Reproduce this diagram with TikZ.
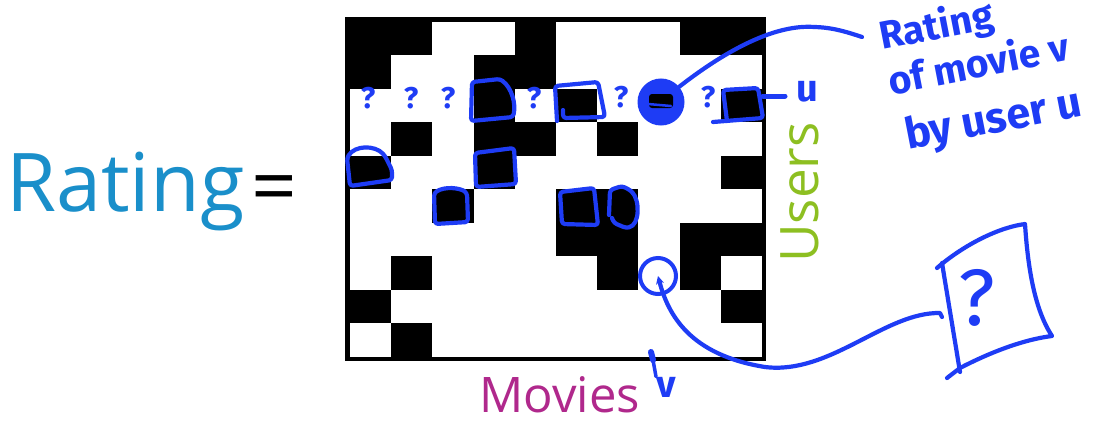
\documentclass[tikz,border=0pt]{standalone}
\usepackage{fontspec}
\setmainfont{Open Sans}
\newfontfamily\handfont{Fira Sans}
\usetikzlibrary{arrows.meta}
\definecolor{ratingblue}{HTML}{1A8FCA}
\definecolor{usersgreen}{HTML}{8DBF21}
\definecolor{moviesmag}{HTML}{B0288C}
\definecolor{pen}{HTML}{1E3CF5}
\tikzset{
  hand/.style={draw=pen, line width=4.2pt, line cap=round, line join=round, rounded corners=3pt},
  pentext/.style={text=pen, inner sep=0pt, font=\handfont\bfseries\fontsize{38}{38}\selectfont},
  qmark/.style={text=pen, inner sep=0pt, font=\handfont\bfseries\fontsize{30}{30}\selectfont},
}
\begin{document}
\begin{tikzpicture}[x=1pt,y=-1pt]
\useasboundingbox (0,0) rectangle (1099,421);
\fill[white] (0,0) rectangle (1099,421);
% grid cells
\foreach \r/\c in {0/0,0/1,0/4,0/8,0/9,
                   1/0,1/3,1/4,
                   2/3,2/5,2/9,
                   3/1,3/3,3/4,3/6,
                   4/0,4/3,4/9,
                   5/2,5/5,5/6,
                   6/5,6/6,6/8,6/9,
                   7/1,7/6,7/8,
                   8/0,8/9,
                   9/1}{
  \fill[black] (350+\c*41.2, 21.7+\r*33.53) rectangle ++(41.2,33.53);
}
\draw[black, line width=4.6pt] (347.5,19.4) rectangle (764,359);
% labels
\node[anchor=base west, inner sep=0pt, text=ratingblue, font=\fontsize{81}{81}\selectfont] (rating) at (6,211) {Rating};
\node[inner sep=0pt, font=\fontsize{80}{80}\selectfont] (eq) at (274.5,195.5) {=};
\node[rotate=90, anchor=base west, inner sep=0pt, text=usersgreen, font=\fontsize{53}{53}\selectfont] (users) at (818,263) {Users};
\node[anchor=base west, inner sep=0pt, text=moviesmag, font=\fontsize{49}{49}\selectfont] (movies) at (479,412) {Movies};
% question marks in row u
\node[qmark] (q0) at (368,98) {?};
\node[qmark] (q1) at (411,98) {?};
\node[qmark] (q2) at (448,98) {?};
\node[qmark] (q4) at (534,98) {?};
\node[qmark] (q6) at (621,97) {?};
\node[qmark] (q8) at (708,97) {?};
% hand-drawn squares around known ratings
\draw[hand] (471,121) -- (472,82) -- (500,79) .. controls (512,88) and (516,104) .. (513,117) -- cycle;
\draw[hand] (563,110) -- (563,118) -- (605,117) -- (598,82) -- (555,86) -- (557,121);
\draw[hand] (713,122) -- (763,118) -- (758,88) -- (723,90) -- (727,121);
\draw[hand] (350,186) -- (347,158) .. controls (355,145) and (375,145) .. (385,156) -- (392,170) -- (392,180) -- cycle;
\draw[hand] (476,187) -- (475,153) -- (514,148) -- (516,184) -- cycle;
\draw[hand] (435,224) -- (434,193) .. controls (445,186) and (460,188) .. (467,193) -- (468,222) -- cycle;
\draw[hand] (562,224) -- (560,192) -- (594,188) -- (598,225) -- cycle;
\draw[hand] (612,218) -- (614,223) -- (626,228) .. controls (640,225) and (640,200) .. (630,190) -- (622,186) -- (610,190) -- (609,215);
% circled entry (u,v) in row u
\node[circle, fill=pen, draw=pen, line width=3pt, minimum size=44pt, inner sep=0pt] (c1) at (661,102) {};
\fill[black, rounded corners=3pt] (649,94) rectangle (673,108);
\draw[pen, line width=2.5pt, line cap=round] (648,104) -- (671,106);
% u label
\coordinate (sqCe) at (763,96);
\coordinate (ue) at (785,96);
\draw[hand, line width=5pt] (sqCe) -- (ue);
\node[pentext, anchor=base west] (ulab) at (796,101) {u};
% annotation
\node[pentext, anchor=base west, rotate=11, align=left, font=\handfont\bfseries\fontsize{39}{46}\selectfont] (ann) at (902,151)
  {Rating\\of movie v\\[11pt]\hspace*{6pt}{\fontsize{43}{46}\selectfont by user u}};
\coordinate (annend) at (862,37);
\draw[hand] (c1.40) .. controls (720,55) and (770,25) .. (815,27) .. controls (835,28) and (850,33) .. (annend);
% column v marker
\node[pentext, anchor=base west] (vlab) at (656,397) {v};
\coordinate (vt1) at (651,352);
\coordinate (vt2) at (653,360);
\draw[pen, line width=6pt, line cap=round] (vt1) -- (vt2);
\draw[pen, line width=3.5pt, line cap=round] (vt2) -- (vlab.north west);
% circled unknown entry
\node[circle, draw=pen, line width=4pt, minimum size=36pt, inner sep=0pt] (c2) at (658,276) {};
% question box
\draw[hand, rounded corners=0pt] (937,268) .. controls (960,248) and (995,228) .. (1025,224) .. controls (1028,270) and (1035,310) .. (1052,336) .. controls (1020,340) and (985,355) .. (960,368) -- (947,378);
\draw[hand, rounded corners=0pt] (942,263) -- (960,372);
\node[text=pen, inner sep=0pt, font=\handfont\fontsize{80}{80}\selectfont] (bq) at (977,298) {?};
\coordinate (boxin) at (940,313);
\draw[hand, rounded corners=0pt, {Stealth[length=8pt,width=8pt]}-] (c2.center) .. controls (668,315) and (690,355) .. (765,367) .. controls (830,375) and (885,312) .. (boxin) -- (942,317);
\end{tikzpicture}
\end{document}
